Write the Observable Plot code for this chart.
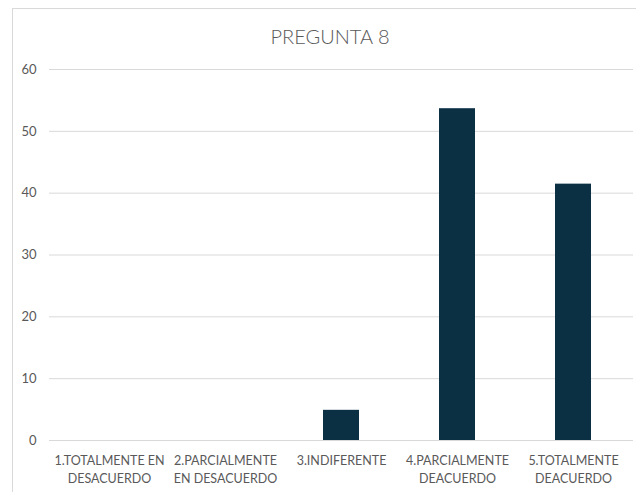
<!DOCTYPE html>
<html>
<head>
<meta charset="utf-8">
<script src="https://cdn.jsdelivr.net/npm/d3@7"></script>
<script src="https://cdn.jsdelivr.net/npm/@observablehq/plot@0.6"></script>
<style>
  html, body { margin: 0; padding: 0; background: #fff; }
  #wrap { position: relative; width: 636px; height: 492px; overflow: hidden; font-family: Lato, "Liberation Sans", sans-serif; }
  #frame { position: absolute; left: 12px; top: 8px; width: 700px; height: 600px; border: 1px solid #d9d9d9; box-sizing: border-box; }
  #title { position: absolute; left: 0; top: 24px; width: 660px; text-align: center; font-size: 20px; color: #595959; font-weight: 300; }
  #chart { position: absolute; left: 0; top: 0; }
</style>
</head>
<body>
<div id="wrap">
  <div id="frame"></div>
  <div id="title">PREGUNTA 8</div>
  <div id="chart"></div>
</div>
<script>
const categories = [
  "1.TOTALMENTE EN DESACUERDO",
  "2.PARCIALMENTE EN DESACUERDO",
  "3.INDIFERENTE",
  "4.PARCIALMENTE DEACUERDO",
  "5.TOTALMENTE DEACUERDO"
];
const tickLabels = [
  "1.TOTALMENTE EN\nDESACUERDO",
  "2.PARCIALMENTE\nEN DESACUERDO",
  "3.INDIFERENTE",
  "4.PARCIALMENTE\nDEACUERDO",
  "5.TOTALMENTE\nDEACUERDO"
];
const values = [0, 0, 4.88, 53.66, 41.46];
const yTicks = [0, 10, 20, 30, 40, 50, 60];

const data = categories.map((c, i) => ({category: c, value: values[i]}));
const labelOf = new Map(categories.map((c, i) => [c, tickLabels[i]]));

const chart = Plot.plot({
  width: 636,
  height: 492,
  marginTop: 69,
  marginBottom: 52,
  marginLeft: 49,
  marginRight: 3,
  style: {background: "transparent", fontFamily: "Lato, 'Liberation Sans', sans-serif", color: "#595959"},
  x: {domain: categories, paddingInner: 0.69, paddingOuter: 0.345, label: null},
  y: {domain: [0, 60], label: null},
  marks: [
    Plot.gridY(yTicks, {stroke: "#d9d9d9", strokeOpacity: 1, strokeWidth: 1}),
    Plot.barY(data, {x: "category", y: "value", fill: "#0b3044"}),
    Plot.axisY(yTicks, {tickSize: 0, tickPadding: 13, fontSize: 13, fill: "#595959", label: null}),
    Plot.axisX({tickSize: 0, tickPadding: 12, fontSize: 12.5, fill: "#595959", lineHeight: 1.45, tickFormat: d => labelOf.get(d), label: null})
  ]
});
document.getElementById("chart").appendChild(chart);
</script>
</body>
</html>
